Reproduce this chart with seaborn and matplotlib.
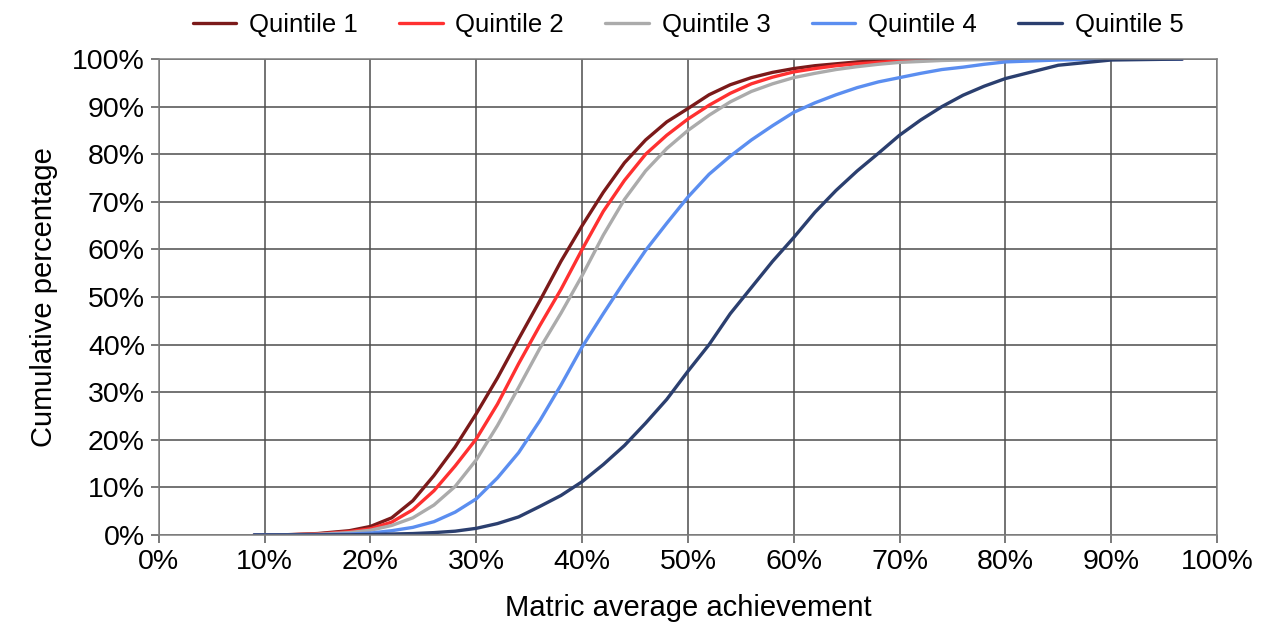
import matplotlib
matplotlib.use("Agg")
import matplotlib.pyplot as plt
import seaborn as sns
import pandas as pd
from matplotlib.ticker import PercentFormatter, MultipleLocator
from matplotlib.transforms import blended_transform_factory

# Matric average achievement (%)
achievement = [9, 12, 15, 18, 20, 22, 24, 26, 28, 30, 32, 34, 36, 38, 40, 42, 44, 46, 48, 50,
               52, 54, 56, 58, 60, 62, 64, 66, 68, 70, 72, 74, 76, 78, 80, 85, 90, 96.7]

# Cumulative percentage by quintile
quintile_1 = [0, 0.05, 0.3, 0.9, 1.8, 3.6, 7.2, 12.5, 18.5, 25.5, 33, 41.2, 49.2, 57.5, 65, 72, 78.2, 83, 86.8, 89.6,
              92.5, 94.6, 96.1, 97.2, 98, 98.6, 99.0, 99.4, 99.6, 99.8, 99.9, 100, 100, 100, 100, 100, 100, 100]
quintile_2 = [0, 0.03, 0.2, 0.7, 1.3, 2.7, 5.3, 9.3, 14.5, 20.2, 27.5, 36, 44, 51.6, 60, 68, 74.5, 80, 84, 87.4,
              90.3, 92.8, 94.8, 96.2, 97.3, 98.0, 98.6, 99.0, 99.3, 99.6, 99.8, 99.9, 100, 100, 100, 100, 100, 100]
quintile_3 = [0, 0.02, 0.15, 0.5, 1.0, 2.0, 3.6, 6.3, 10.2, 15.8, 23, 31, 39.2, 46.6, 54.5, 63, 70.5, 76.5, 81.2, 85,
              88.2, 91, 93.2, 94.8, 96.1, 97.0, 97.8, 98.4, 98.9, 99.3, 99.5, 99.7, 99.8, 99.9, 100, 100, 100, 100]
quintile_4 = [0, 0.01, 0.05, 0.2, 0.4, 0.9, 1.6, 2.8, 4.8, 7.6, 12, 17.3, 24, 31.5, 39.5, 46.5, 53.3, 59.8, 65.5, 71,
              75.8, 79.6, 83, 86, 88.8, 90.8, 92.5, 94.0, 95.2, 96.1, 97.0, 97.8, 98.3, 98.9, 99.4, 99.8, 100, 100]
quintile_5 = [0, 0.01, 0.02, 0.05, 0.1, 0.2, 0.3, 0.5, 0.8, 1.4, 2.4, 3.8, 6, 8.3, 11.2, 14.8, 18.8, 23.5, 28.5, 34.4,
              40, 46.5, 52, 57.5, 62.5, 67.8, 72.4, 76.5, 80.2, 84, 87.2, 90, 92.4, 94.3, 95.9, 98.7, 99.8, 100]

series_names = ["Quintile 1", "Quintile 2", "Quintile 3", "Quintile 4", "Quintile 5"]
series_values = [quintile_1, quintile_2, quintile_3, quintile_4, quintile_5]
colors = ["#7b1a1a", "#ff3030", "#ababab", "#5b8ef0", "#2b3f6f"]

rows = []
for name, vals in zip(series_names, series_values):
    for x, y in zip(achievement, vals):
        rows.append({"Matric average achievement": x, "Cumulative percentage": y, "Series": name})
df = pd.DataFrame(rows)

sns.set_style("white")
plt.rcParams["font.family"] = ["Liberation Sans", "DejaVu Sans"]
plt.rcParams["text.color"] = "black"
plt.rcParams["axes.labelcolor"] = "black"

fig = plt.figure(figsize=(12.71, 6.35), dpi=100)
ax = fig.add_axes([0.125, 0.1575, 0.8325, 0.7495])

sns.lineplot(data=df, x="Matric average achievement", y="Cumulative percentage", hue="Series",
             palette=dict(zip(series_names, colors)), linewidth=2.4, ax=ax, legend=True)

ax.set_xlim(0, 100)
ax.set_ylim(0, 100)
ax.xaxis.set_major_locator(MultipleLocator(10))
ax.yaxis.set_major_locator(MultipleLocator(10))
ax.xaxis.set_major_formatter(PercentFormatter(100, decimals=0))
ax.yaxis.set_major_formatter(PercentFormatter(100, decimals=0))
ax.grid(True, color="#4d4d4d", linewidth=1.1)
ax.set_axisbelow(True)
for s in ax.spines.values():
    s.set_color("#808080")
    s.set_linewidth(1.1)
ax.tick_params(axis="both", which="major", direction="out", length=6, width=1.1, color="#555555",
               labelcolor="black", labelsize=20.5, pad=4, bottom=True, left=True)
ax.set_xlabel("Matric average achievement", fontsize=21, labelpad=14, color="black")
ax.set_ylabel("Cumulative percentage", fontsize=21, labelpad=10, color="black")

handles, labels = ax.get_legend_handles_labels()
trans = blended_transform_factory(ax.transAxes, fig.transFigure)
leg = ax.legend(handles, labels, loc="upper center", bbox_to_anchor=(0.5, 1.0), bbox_transform=trans,
                ncol=5, frameon=False, fontsize=18.5, handlelength=1.7, handletextpad=0.5, columnspacing=1.6,
                borderaxespad=0.1)
for t in leg.get_texts():
    t.set_color("black")

fig.savefig("out.png", dpi=100)
